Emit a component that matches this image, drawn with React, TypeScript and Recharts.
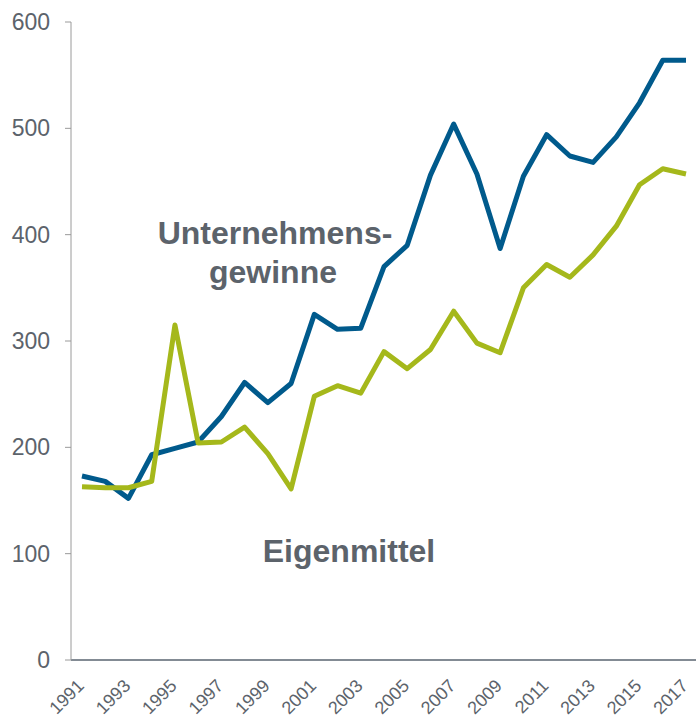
import { LineChart, Line, XAxis, YAxis } from 'recharts'

const years = [
  '1991', '1992', '1993', '1994', '1995', '1996', '1997', '1998', '1999', '2000',
  '2001', '2002', '2003', '2004', '2005', '2006', '2007', '2008', '2009', '2010',
  '2011', '2012', '2013', '2014', '2015', '2016', '2017',
]

const gewinne = [
  173, 168, 152, 193, 199, 205, 229, 261, 242, 260,
  325, 311, 312, 370, 390, 456, 504, 457, 387, 455,
  494, 474, 468, 492, 524, 564, 564,
]

const eigenmittel = [
  163, 162, 162, 168, 315, 204, 205, 219, 194, 161,
  248, 258, 251, 290, 274, 292, 328, 298, 289, 350,
  372, 360, 381, 408, 447, 462, 457,
]

const yTicks = [0, 100, 200, 300, 400, 500, 600]

const BLUE = '#005a8c'
const GREEN = '#a5b81b'
const TEXT = '#5c636b'
const FONT = '"Liberation Sans", Arial, sans-serif'

const data = years.map((year, i) => ({
  year,
  gewinne: gewinne[i],
  eigenmittel: eigenmittel[i],
}))

function YearTick({ x, y, payload }: any) {
  return (
    <g transform={`translate(${x + 3},${y + 19})`}>
      <text transform="rotate(-45)" textAnchor="end" fill={TEXT} fontSize={18} fontFamily={FONT}>
        {payload.value}
      </text>
    </g>
  )
}

export default function App() {
  return (
    <div style={{ position: 'absolute', left: 0, top: 0, width: 696, height: 719 }}>
      <LineChart width={696} height={719} data={data} margin={{ top: 22, right: 0, left: 0, bottom: 0 }}>
        <XAxis
          dataKey="year"
          interval={1}
          height={59}
          padding={{ left: 11, right: 10 }}
          tickLine={false}
          axisLine={{ stroke: '#5a6470', strokeWidth: 1.5 }}
          tick={<YearTick />}
        />
        <YAxis
          domain={[0, 600]}
          ticks={yTicks}
          width={71}
          tickSize={6}
          tickMargin={15}
          axisLine={{ stroke: '#9a9a9a' }}
          tickLine={{ stroke: '#9a9a9a' }}
          tick={{ fill: TEXT, fontSize: 23, fontFamily: FONT }}
        />
        <Line dataKey="gewinne" stroke={BLUE} strokeWidth={5} dot={false} isAnimationActive={false} strokeLinejoin="round" />
        <Line dataKey="eigenmittel" stroke={GREEN} strokeWidth={5} dot={false} isAnimationActive={false} strokeLinejoin="round" />
      </LineChart>
      <svg width={696} height={719} style={{ position: 'absolute', left: 0, top: 0, pointerEvents: 'none' }}>
        <g fill={TEXT} fontFamily={FONT} fontWeight="bold" fontSize={32} textAnchor="middle">
          <text x={275} y={244}>Unternehmens-</text>
          <text x={273} y={283}>gewinne</text>
          <text x={349} y={562}>Eigenmittel</text>
        </g>
      </svg>
    </div>
  )
}
